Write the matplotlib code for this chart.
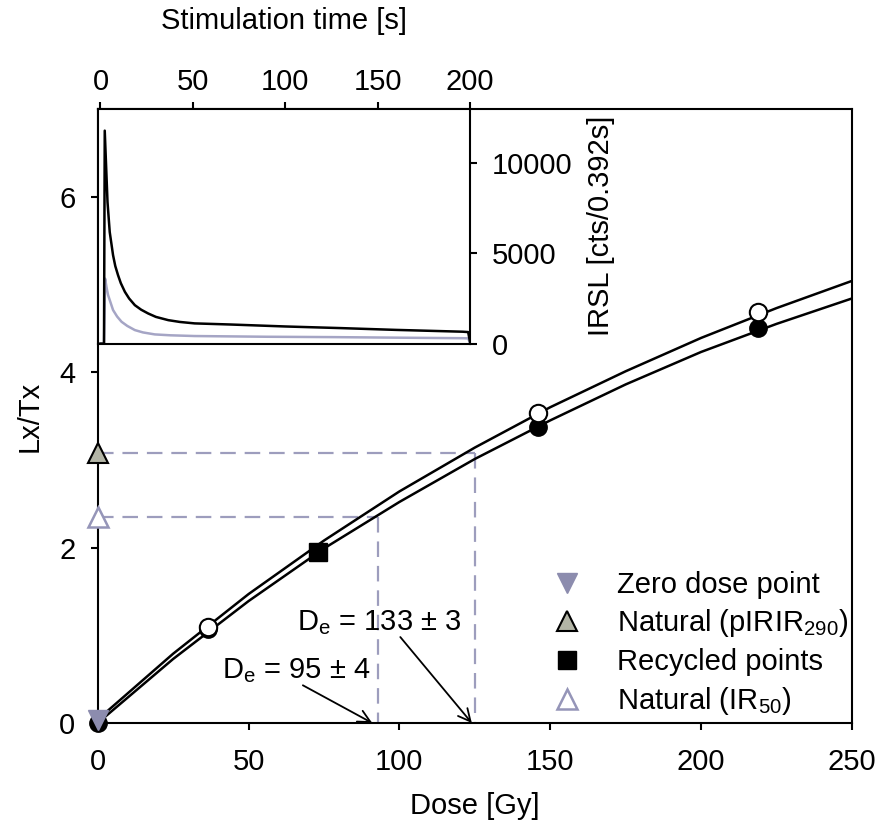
# Courbe de croissance (Lx/Tx) avec en encart les déclins IRSL
import matplotlib
matplotlib.use('Agg')
import matplotlib.pyplot as plt

plt.rcParams['font.family'] = 'Liberation Sans'
plt.rcParams['mathtext.fontset'] = 'custom'
plt.rcParams['mathtext.rm'] = 'Liberation Sans'
plt.rcParams['mathtext.it'] = 'Liberation Sans:italic'
plt.rcParams['font.size'] = 21

# --- données ---
# courbes ajustées (lues tous les 25 Gy)
dose_fit = [0, 25, 50, 75, 100, 125, 150, 175, 200, 225, 250]
fit_haut = [0.04, 0.79, 1.47, 2.08, 2.64, 3.14, 3.60, 4.01, 4.39, 4.73, 5.04]
fit_bas = [0.00, 0.73, 1.39, 1.99, 2.52, 3.01, 3.45, 3.86, 4.23, 4.55, 4.84]

# points régénérés
dose_pleins = [0, 36.5, 146, 219]
lxtx_pleins = [0.0, 1.07, 3.38, 4.50]
dose_vides = [36.5, 146, 219]
lxtx_vides = [1.09, 3.53, 4.68]

dose_recycle = [73]
lxtx_recycle = [1.95]

dose_zero = [0]
lxtx_zero = [0.03]

nat_pirir = 3.08
nat_ir50 = 2.35
de_pirir = 125
de_ir50 = 92.8

# encart: déclins IRSL
t_noir = [0, 1.9, 2.3, 3.8, 5.0, 6.8, 8.0, 9.5, 11, 13.2, 15.5, 18.6, 22, 25.8, 30, 36.7, 43, 51,
          70, 100, 130, 160, 196, 199, 200]
irsl_noir = [0, 0, 11800, 7840, 6180, 4900, 4300, 3790, 3350, 2870, 2500, 2130, 1880, 1670, 1480,
             1300, 1200, 1120, 1060, 950, 860, 760, 660, 640, 100]
t_gris = [0, 1.9, 2.5, 3.3, 4.1, 6.8, 9, 11.4, 14.5, 18.6, 23, 29.4, 38, 51, 90, 126, 160, 196, 199, 200]
irsl_gris = [0, 0, 3600, 3100, 2690, 1860, 1500, 1210, 980, 750, 620, 510, 460, 420, 380, 360, 330,
             300, 290, 50]

lavande = '#8c8cae'
tirets = '#9d9dbd'

fig = plt.figure(figsize=(8.78, 8.32), dpi=100)
ax = fig.add_axes([0.1113, 0.131, 0.859, 0.738])

# lignes en pointillés (naturels -> De)
ax.plot([0, de_pirir], [nat_pirir, nat_pirir], '--', color=tirets, lw=1.6, dashes=(7, 4), zorder=1)
ax.plot([de_pirir, de_pirir], [nat_pirir, 0], '--', color=tirets, lw=1.6, dashes=(7, 4), zorder=1)
ax.plot([0, de_ir50], [nat_ir50, nat_ir50], '--', color=tirets, lw=1.6, dashes=(7, 4), zorder=1)
ax.plot([de_ir50, de_ir50], [nat_ir50, 0], '--', color=tirets, lw=1.6, dashes=(7, 4), zorder=1)

ax.plot(dose_fit, fit_haut, color='black', lw=1.8, zorder=2)
ax.plot(dose_fit, fit_bas, color='black', lw=1.8, zorder=2)

ax.plot(dose_pleins, lxtx_pleins, 'o', color='black', ms=12.5, clip_on=False, zorder=3)
ax.plot(dose_vides, lxtx_vides, 'o', mfc='white', mec='black', mew=1.5, ms=12.5, zorder=4)
h_zero, = ax.plot(dose_zero, lxtx_zero, 'v', color=lavande, ms=14, clip_on=False, zorder=5,
                  label='Zero dose point')
h_pirir, = ax.plot([0], [nat_pirir], '^', mfc='#b3b5a6', mec='black', mew=1.5, ms=14,
                   clip_on=False, zorder=5, label=r'Natural (pIRIR$\mathregular{_{290}}$)')
h_rec, = ax.plot(dose_recycle, lxtx_recycle, 's', color='black', ms=13, zorder=5,
                 label='Recycled points')
h_ir50, = ax.plot([0], [nat_ir50], '^', mfc='white', mec='#9595b8', mew=1.8, ms=14,
                  clip_on=False, zorder=5, label=r'Natural (IR$\mathregular{_{50}}$)')

# annotations De
ax.text(41.2, 0.51, r'D$\mathregular{_e}$ = 95 ± 4')
ax.text(66.1, 1.06, r'D$\mathregular{_e}$ = 133 ± 3')
ax.annotate('', xy=(91, 0.0), xytext=(68, 0.43),
            arrowprops=dict(arrowstyle='->', lw=1.3, color='black', mutation_scale=22,
                            shrinkA=0, shrinkB=0))
ax.annotate('', xy=(124, 0.0), xytext=(100.3, 0.98),
            arrowprops=dict(arrowstyle='->', lw=1.3, color='black', mutation_scale=22,
                            shrinkA=0, shrinkB=0))

ax.set_xlim(0, 250)
ax.set_ylim(0, 7)
ax.set_xticks([0, 50, 100, 150, 200, 250])
ax.set_yticks([0, 2, 4, 6])
ax.tick_params(direction='out', length=5, width=1.5, top=False, right=False)
ax.tick_params(axis='x', pad=13)
ax.tick_params(axis='y', pad=11)
for s in ax.spines.values():
    s.set_linewidth(1.5)
ax.set_xlabel('Dose [Gy]')
ax.set_ylabel('Lx/Tx')
ax.xaxis.set_label_coords(0.5, -0.113)
ax.yaxis.set_label_coords(-0.072, 0.5)

ax.legend(handles=[h_zero, h_pirir, h_rec, h_ir50], loc='upper left',
          bbox_to_anchor=(0.604, 0.248), frameon=False, borderpad=0, borderaxespad=0,
          handlelength=0.95, handletextpad=1.25, labelspacing=0.3, numpoints=1)

# --- encart ---
ins = fig.add_axes([0.1113, 0.587, 0.424, 0.282])
ins.plot(t_gris, irsl_gris, color='#a5a5c5', lw=1.8)
ins.plot(t_noir, irsl_noir, color='black', lw=1.8)
ins.set_xlim(-1.5, 200)
ins.set_ylim(0, 13000)
ins.xaxis.tick_top()
ins.yaxis.tick_right()
ins.xaxis.set_label_position('top')
ins.yaxis.set_label_position('right')
ins.set_xticks([0, 50, 100, 150, 200])
ins.set_yticks([0, 5000, 10000])
ins.tick_params(direction='out', length=5, width=1.5)
ins.tick_params(axis='x', pad=4)
ins.tick_params(axis='y', pad=11)
for s in ins.spines.values():
    s.set_linewidth(1.5)
ins.set_xlabel('Stimulation time [s]')
ins.set_ylabel('IRSL [cts/0.392s]')
ins.xaxis.set_label_coords(0.5, 1.34)
ins.yaxis.set_label_coords(1.315, 0.5)

plt.savefig('out.png', dpi=100)
